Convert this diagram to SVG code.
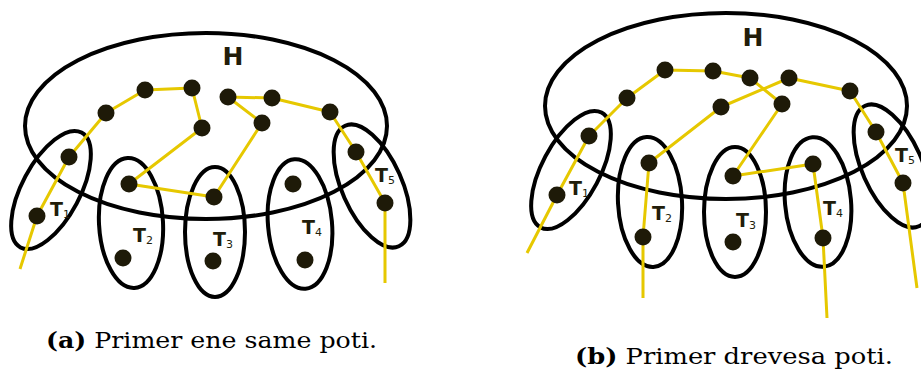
<svg xmlns="http://www.w3.org/2000/svg" width="921" height="378" viewBox="0 0 921 378">
  <style>
    .ring { fill: none; stroke: #000; stroke-width: 4; }
    .path { fill: none; stroke: #e6c800; stroke-width: 3; stroke-linejoin: round; stroke-linecap: butt; }
    .v { fill: #1e1a08; }
    .lbl { font-family: "DejaVu Sans", "Liberation Sans", sans-serif; fill: #221d0a; }
    .big { font-size: 25px; font-weight: bold; }
    .t { font-size: 19px; font-weight: bold; }
    .sub { font-size: 11px; font-weight: normal; }
    .cap { font-family: "DejaVu Serif", "Liberation Serif", serif; font-size: 23px; fill: #000; }
    .b { font-weight: bold; }
  </style>

  <!-- (a) single path -->
  <g id="panel-a">
    <g id="a-H">
      <ellipse class="ring" cx="206" cy="126" rx="181" ry="93"/>
      <text class="lbl big" x="233" y="65" text-anchor="middle">H</text>
    </g>
    <g id="a-T1">
      <ellipse class="ring" cx="51" cy="190" rx="29" ry="65" transform="rotate(28 51 190)"/>
      <text class="lbl t" x="50" y="216">T<tspan class="sub" dy="2">1</tspan></text>
    </g>
    <g id="a-T2">
      <ellipse class="ring" cx="131" cy="223" rx="32" ry="65" transform="rotate(-3 131 223)"/>
      <text class="lbl t" x="133" y="242">T<tspan class="sub" dy="2">2</tspan></text>
    </g>
    <g id="a-T3">
      <ellipse class="ring" cx="215" cy="232" rx="30" ry="65"/>
      <text class="lbl t" x="213" y="246">T<tspan class="sub" dy="2">3</tspan></text>
    </g>
    <g id="a-T4">
      <ellipse class="ring" cx="300" cy="224" rx="32" ry="65" transform="rotate(-5 300 224)"/>
      <text class="lbl t" x="302" y="234">T<tspan class="sub" dy="2">4</tspan></text>
    </g>
    <g id="a-T5">
      <ellipse class="ring" cx="372" cy="186" rx="30" ry="66" transform="rotate(-24 372 186)"/>
      <text class="lbl t" x="375" y="182">T<tspan class="sub" dy="2">5</tspan></text>
    </g>
    <g id="a-edges">
      <polyline class="path" points="20,269 37,216 69,157 106,113 145,90 192,88 202,128 129,184 214,197 262,123 228,97 272,98 330,112 356,152 385,203 385,283"/>
    </g>
    <g id="a-vertices">
      <circle class="v" cx="145" cy="90" r="8.5"/>
      <circle class="v" cx="192" cy="88" r="8.5"/>
      <circle class="v" cx="106" cy="113" r="8.5"/>
      <circle class="v" cx="202" cy="128" r="8.5"/>
      <circle class="v" cx="69" cy="157" r="8.5"/>
      <circle class="v" cx="37" cy="216" r="8.5"/>
      <circle class="v" cx="129" cy="184" r="8.5"/>
      <circle class="v" cx="214" cy="197" r="8.5"/>
      <circle class="v" cx="228" cy="97" r="8.5"/>
      <circle class="v" cx="272" cy="98" r="8.5"/>
      <circle class="v" cx="330" cy="112" r="8.5"/>
      <circle class="v" cx="262" cy="123" r="8.5"/>
      <circle class="v" cx="356" cy="152" r="8.5"/>
      <circle class="v" cx="385" cy="203" r="8.5"/>
      <circle class="v" cx="293" cy="184" r="8.5"/>
      <circle class="v" cx="123" cy="258" r="8.5"/>
      <circle class="v" cx="213" cy="261" r="8.5"/>
      <circle class="v" cx="305" cy="260" r="8.5"/>
    </g>
    <text class="cap" x="46" y="348" textLength="331" lengthAdjust="spacingAndGlyphs"><tspan class="b">(a)</tspan> Primer ene same poti.</text>
  </g>

  <!-- (b) tree path -->
  <g id="panel-b">
    <g id="b-H">
      <ellipse class="ring" cx="726" cy="106" rx="181" ry="93"/>
      <text class="lbl big" x="753" y="46" text-anchor="middle">H</text>
    </g>
    <g id="b-T1">
      <ellipse class="ring" cx="571" cy="170" rx="29" ry="65" transform="rotate(28 571 170)"/>
      <text class="lbl t" x="569" y="195">T<tspan class="sub" dy="2">1</tspan></text>
    </g>
    <g id="b-T2">
      <ellipse class="ring" cx="650" cy="202" rx="32" ry="65" transform="rotate(-3 650 202)"/>
      <text class="lbl t" x="652" y="220">T<tspan class="sub" dy="2">2</tspan></text>
    </g>
    <g id="b-T3">
      <ellipse class="ring" cx="735" cy="212" rx="31" ry="65"/>
      <text class="lbl t" x="736" y="227">T<tspan class="sub" dy="2">3</tspan></text>
    </g>
    <g id="b-T4">
      <ellipse class="ring" cx="818" cy="202" rx="33" ry="65" transform="rotate(-5 818 202)"/>
      <text class="lbl t" x="823" y="215">T<tspan class="sub" dy="2">4</tspan></text>
    </g>
    <g id="b-T5">
      <ellipse class="ring" cx="892" cy="166" rx="30" ry="66" transform="rotate(-24 892 166)"/>
      <text class="lbl t" x="895" y="162">T<tspan class="sub" dy="2">5</tspan></text>
    </g>
    <g id="b-edges">
      <polyline class="path" points="527,253 557,195 589,136 627,98 665,70 713,71 750,78 782,104 733,176 813,164 823,238 827,318"/>
      <polyline class="path" points="649,163 721,107 789,78 850,91 876,132 903,183 917,288"/>
      <polyline class="path" points="649,163 643,237 643,298"/>
    </g>
    <g id="b-vertices">
      <circle class="v" cx="665" cy="70" r="8.5"/>
      <circle class="v" cx="713" cy="71" r="8.5"/>
      <circle class="v" cx="750" cy="78" r="8.5"/>
      <circle class="v" cx="789" cy="78" r="8.5"/>
      <circle class="v" cx="850" cy="91" r="8.5"/>
      <circle class="v" cx="627" cy="98" r="8.5"/>
      <circle class="v" cx="721" cy="107" r="8.5"/>
      <circle class="v" cx="782" cy="104" r="8.5"/>
      <circle class="v" cx="589" cy="136" r="8.5"/>
      <circle class="v" cx="876" cy="132" r="8.5"/>
      <circle class="v" cx="557" cy="195" r="8.5"/>
      <circle class="v" cx="649" cy="163" r="8.5"/>
      <circle class="v" cx="733" cy="176" r="8.5"/>
      <circle class="v" cx="813" cy="164" r="8.5"/>
      <circle class="v" cx="903" cy="183" r="8.5"/>
      <circle class="v" cx="643" cy="237" r="8.5"/>
      <circle class="v" cx="733" cy="242" r="8.5"/>
      <circle class="v" cx="823" cy="238" r="8.5"/>
    </g>
    <text class="cap" x="575" y="364" textLength="318" lengthAdjust="spacingAndGlyphs"><tspan class="b">(b)</tspan> Primer drevesa poti.</text>
  </g>
</svg>
